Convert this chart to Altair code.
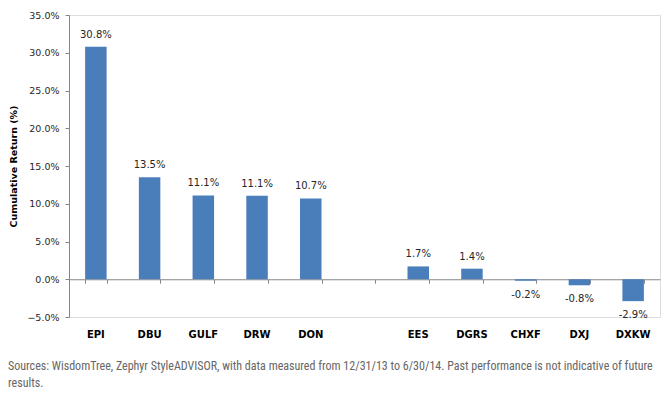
import altair as alt
import pandas as pd

categories = ["EPI", "DBU", "GULF", "DRW", "DON", " ", "EES", "DGRS", "CHXF", "DXJ", "DXKW"]
returns = [30.8, 13.5, 11.1, 11.05, 10.7, None, 1.7, 1.4, -0.2, -0.8, -2.9]
value_labels = ["30.8%", "13.5%", "11.1%", "11.1%", "10.7%", "", "1.7%", "1.4%", "-0.2%", "-0.8%", "-2.9%"]
y_ticks = [-5, 0, 5, 10, 15, 20, 25, 30, 35]
y_title = "Cumulative Return (%)"
footnote = [
    "Sources: WisdomTree, Zephyr StyleADVISOR, with data measured from 12/31/13 to 6/30/14. Past performance is not indicative of future",
    "results.",
]

df = pd.DataFrame({"fund": categories, "ret": returns, "label": value_labels})

W, H = 591, 302
FONT = "DejaVu Sans"
GRAY = "#868686"
BLUE = "#4A7EBB"

xscale = alt.Scale(domain=categories, paddingInner=0.6, paddingOuter=0.3)
yscale = alt.Scale(domain=[-5, 35], nice=False, zero=False)

base = alt.Chart(df)

bars = base.transform_filter("isValid(datum.ret)").mark_bar(color=BLUE).encode(
    x=alt.X("fund:N", scale=xscale, sort=categories, title=None,
            axis=alt.Axis(domain=False, ticks=False, labelAngle=0, labelFontWeight="bold",
                          labelFont=FONT, labelFontSize=10, labelColor="#000000",
                          labelPadding=12, grid=False)),
    y=alt.Y("ret:Q", scale=yscale, title=y_title,
            axis=alt.Axis(values=y_ticks, labelExpr="format(datum.value, '.1f') + '%'",
                          grid=False, domainColor=GRAY, tickColor=GRAY, tickSize=4,
                          labelFont=FONT, labelFontSize=9.5, labelColor="#262626",
                          labelPadding=6, titleFont=FONT, titleFontSize=9.5,
                          titleFontWeight="bold", titleColor="#000000", titlePadding=8)),
)

pos_text = base.transform_filter("isValid(datum.ret) && datum.ret >= 0").mark_text(
    baseline="bottom", dy=-7, font=FONT, fontSize=10, color="#262626"
).encode(
    x=alt.X("fund:N", scale=xscale, sort=categories, axis=None),
    y=alt.Y("ret:Q", scale=yscale, axis=None),
    text="label:N",
)

neg_text = base.transform_filter("isValid(datum.ret) && datum.ret < 0").mark_text(
    baseline="top", dy=9, font=FONT, fontSize=10, color="#262626"
).encode(
    x=alt.X("fund:N", scale=xscale, sort=categories,
            axis=alt.Axis(orient="bottom", offset=-H * 5 / 40, labels=False, title=None,
                          domainColor=GRAY, tickColor=GRAY, tickSize=4, tickBand="extent",
                          ticks=True, tickWidth=1, tickOpacity=1,
                          grid=False, domainWidth=1)),
    y=alt.Y("ret:Q", scale=yscale, axis=None),
    text="label:N",
)

chart = alt.layer(bars, pos_text, neg_text).resolve_axis(x="independent", y="independent").properties(
    width=W,
    height=H,
    autosize=alt.AutoSizeParams(type="none"),
    padding={"left": 69, "top": 15, "right": 10, "bottom": 88},
    title=alt.TitleParams(
        text=footnote, orient="bottom", anchor="start", frame="group", dx=-61, offset=22,
        font="Liberation Sans Narrow, Roboto Condensed, Arial Narrow, sans-serif",
        fontSize=12, fontWeight="normal", color="#666666", lineHeight=17,
    ),
).configure_view(stroke=None).configure(background="white")

chart.save("out.html", embed_options={"renderer": "svg", "actions": False})
